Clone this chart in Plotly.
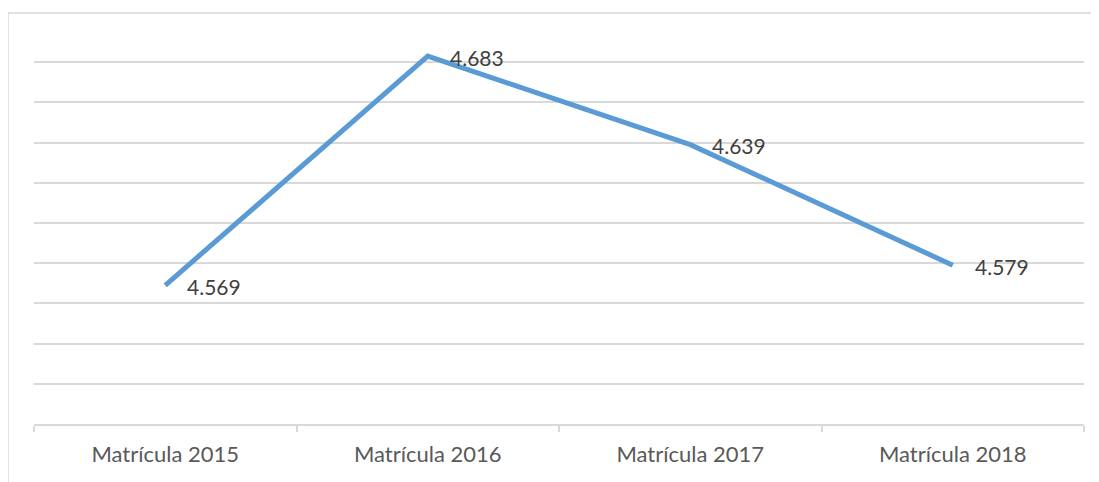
import plotly.graph_objects as go

categories = ["Matrícula 2015", "Matrícula 2016", "Matrícula 2017", "Matrícula 2018"]
values = [4.569, 4.683, 4.639, 4.579]
labels = ["4.569", "4.683", "4.639", "4.579"]

W, H = 1099, 482
OFF = 8  # page body offset
L, R, T, B = 34 - OFF, 15 + OFF, 22 - OFF, 58 + OFF
pw, ph = W - L - R, H - T - B
FONT = "Lato, Noto Sans, sans-serif"

fig = go.Figure()
fig.add_trace(go.Scatter(
    x=categories, y=values, mode="lines",
    line=dict(color="#5B9BD5", width=5),
    cliponaxis=False, hoverinfo="skip",
))

annotations = [
    dict(x=c, y=v, xref="x", yref="y", text=t, showarrow=False,
         xanchor="left", yanchor="middle", xshift=20, yshift=-1,
         font=dict(family=FONT, size=21, color="#404040"))
    for c, v, t in zip(categories, values, labels)
]

fig.update_layout(
    width=W, height=H,
    margin=dict(l=L, r=R, t=T, b=B),
    paper_bgcolor="white", plot_bgcolor="white",
    showlegend=False,
    font=dict(family=FONT, size=21, color="#595959"),
    annotations=annotations,
    xaxis=dict(
        type="category", range=[-0.5, 3.5],
        showline=True, linecolor="#D9D9D9", linewidth=1.5,
        ticks="outside", tickson="boundaries", ticklen=6, tickcolor="#D9D9D9",
        tickwidth=1.5, showgrid=False, ticklabelstandoff=10,
        tickfont=dict(family=FONT, size=22, color="#595959"),
    ),
    yaxis=dict(
        range=[4.5, 4.7], dtick=0.02, tick0=4.5,
        showticklabels=False, showgrid=True, gridcolor="#D9D9D9", gridwidth=1.5,
        zeroline=False, showline=False, ticks="",
    ),
    shapes=[dict(
        type="rect", xref="paper", yref="paper",
        x0=(8 - 34) / pw, x1=(1102 - 34) / pw,
        y0=-0.3, y1=(424 - 13) / ph,
        line=dict(color="#D9D9D9", width=1.5), fillcolor="rgba(0,0,0,0)",
        layer="below",
    )],
)

fig.write_html("out.html")
